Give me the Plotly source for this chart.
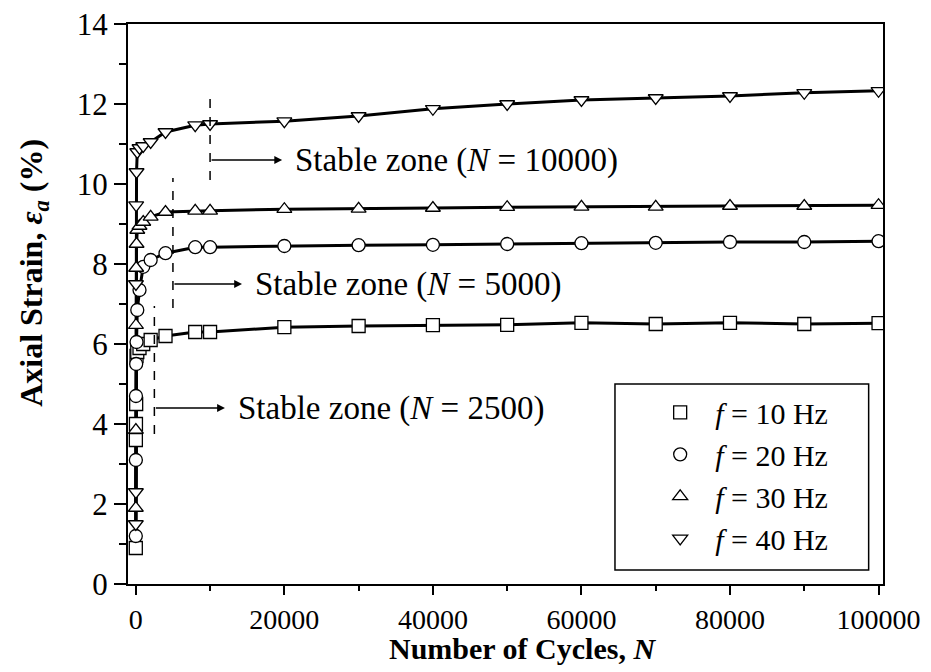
import plotly.graph_objects as go

# ---- data ----
cycles = [1, 10, 20, 50, 100, 200, 500, 1000, 2000, 4000, 8000, 10000,
          20000, 30000, 40000, 50000, 60000, 70000, 80000, 90000, 100000]
strain_10hz = [0.9, 3.6, 4.0, 4.5, 5.7, 5.8, 5.9, 6.0, 6.1, 6.2, 6.3, 6.3,
               6.42, 6.45, 6.47, 6.48, 6.53, 6.5, 6.53, 6.5, 6.52]
strain_20hz = [1.2, 3.1, 4.7, 5.5, 6.05, 6.85, 7.35, 7.93, 8.1, 8.27, 8.42, 8.42,
               8.45, 8.47, 8.48, 8.5, 8.52, 8.53, 8.55, 8.55, 8.57]
strain_30hz = [1.9, 3.85, 6.47, 7.9, 8.5, 8.85, 8.95, 9.05, 9.18, 9.3, 9.33, 9.33,
               9.37, 9.38, 9.4, 9.42, 9.43, 9.43, 9.45, 9.45, 9.47]
strain_40hz = [1.5, 2.3, 7.5, 9.47, 10.3, 10.8, 10.9, 10.95, 11.05, 11.3, 11.47, 11.5,
               11.57, 11.7, 11.88, 12.0, 12.1, 12.15, 12.2, 12.28, 12.33]
series_names = ["<i>f</i> = 10 Hz", "<i>f</i> = 20 Hz", "<i>f</i> = 30 Hz", "<i>f</i> = 40 Hz"]
series_symbols = ["square", "circle", "triangle-up", "triangle-down"]

x_tick_vals = [0, 20000, 40000, 60000, 80000, 100000]
x_tick_text = ["0", "20000", "40000", "60000", "80000", "100000"]
y_tick_vals = [0, 2, 4, 6, 8, 10, 12, 14]

# stable zones: (N, dashed line bottom, dashed line top, arrow y, arrow end N, label)
stable_N = [2500, 5000, 10000]
stable_lo = [3.75, 6.9, 10.1]
stable_hi = [6.95, 10.15, 12.35]
stable_arrow_y = [4.4, 7.5, 10.6]
stable_arrow_end = [12000, 14300, 19700]
stable_labels = ["Stable zone (<i>N</i> = 2500)", "Stable zone (<i>N</i> = 5000)",
                 "Stable zone (<i>N</i> = 10000)"]

FONT = "Liberation Serif"
fig = go.Figure()

all_series = [strain_10hz, strain_20hz, strain_30hz, strain_40hz]
for vals in all_series:
    fig.add_trace(go.Scatter(x=cycles, y=vals, mode="lines",
                             line=dict(color="black", width=3), showlegend=False,
                             hoverinfo="skip"))
for vals, name, sym in zip(all_series, series_names, series_symbols):
    fig.add_trace(go.Scatter(x=cycles, y=vals, mode="markers", name=name,
                             marker=dict(symbol=sym, size=13, color="white",
                                         line=dict(color="black", width=1.3))))

for n, lo, hi, ay, xe, lab in zip(stable_N, stable_lo, stable_hi, stable_arrow_y,
                                  stable_arrow_end, stable_labels):
    fig.add_shape(type="line", x0=n, x1=n, y0=lo, y1=hi, xref="x", yref="y",
                  line=dict(color="black", width=1.5, dash="dash"))
    fig.add_annotation(x=xe, y=ay, ax=n, ay=ay, xref="x", yref="y", axref="x", ayref="y",
                       text="", showarrow=True, arrowhead=2, arrowsize=1.2,
                       arrowwidth=1.3, arrowcolor="black")
    fig.add_annotation(x=xe + 1500, y=ay, xref="x", yref="y", text=lab, showarrow=False,
                       xanchor="left", yanchor="middle",
                       font=dict(family=FONT, size=33, color="black"))

# axis titles
fig.add_annotation(text="<b>Number of Cycles, <i>N</i></b>", xref="paper", yref="paper",
                   x=0.5225, y=-0.116, xanchor="center", yanchor="middle", showarrow=False,
                   font=dict(family=FONT, size=30, color="black"))
fig.add_annotation(text="<b>Axial Strain, <i>ε</i><sub><i>a</i></sub> (%)</b>",
                   xref="paper", yref="paper", x=-0.125, y=0.555, textangle=-90,
                   xanchor="center", yanchor="middle", showarrow=False,
                   font=dict(family=FONT, size=32, color="black"))

# legend box
fig.add_shape(type="rect", xref="paper", yref="paper",
              x0=0.645, x1=0.981, y0=0.025, y1=0.357,
              line=dict(color="black", width=1.5), fillcolor="white", layer="below")

fig.update_layout(
    width=931, height=672,
    margin=dict(l=128, r=48, t=24, b=88, autoexpand=False),
    paper_bgcolor="white", plot_bgcolor="rgba(0,0,0,0)",
    font=dict(family=FONT, size=30, color="black"),
    legend=dict(x=0.685, y=0.353, xanchor="left", yanchor="top",
                bgcolor="rgba(0,0,0,0)", borderwidth=0,
                font=dict(family=FONT, size=30), itemwidth=60,
                tracegroupgap=0),
    xaxis=dict(range=[-1050, 100600], tickvals=x_tick_vals, ticktext=x_tick_text,
               automargin=False,
               ticks="outside", ticklen=9, tickwidth=2, tickcolor="black",
               minor=dict(tickvals=[10000, 30000, 50000, 70000, 90000], ticks="outside",
                          ticklen=5, tickwidth=2, tickcolor="black"),
               showline=True, linecolor="black", linewidth=2, mirror=True,
               showgrid=False, zeroline=False,
               tickfont=dict(family=FONT, size=28)),
    yaxis=dict(range=[0, 14], tickvals=y_tick_vals, automargin=False,
               ticks="outside", ticklen=12, tickwidth=2, tickcolor="black",
               minor=dict(tickvals=[1, 3, 5, 7, 9, 11, 13], ticks="outside",
                          ticklen=7, tickwidth=2, tickcolor="black"),
               showline=True, linecolor="black", linewidth=2, mirror=True,
               showgrid=False, zeroline=False,
               tickfont=dict(family=FONT, size=31)),
)

fig.write_html("out.html")
